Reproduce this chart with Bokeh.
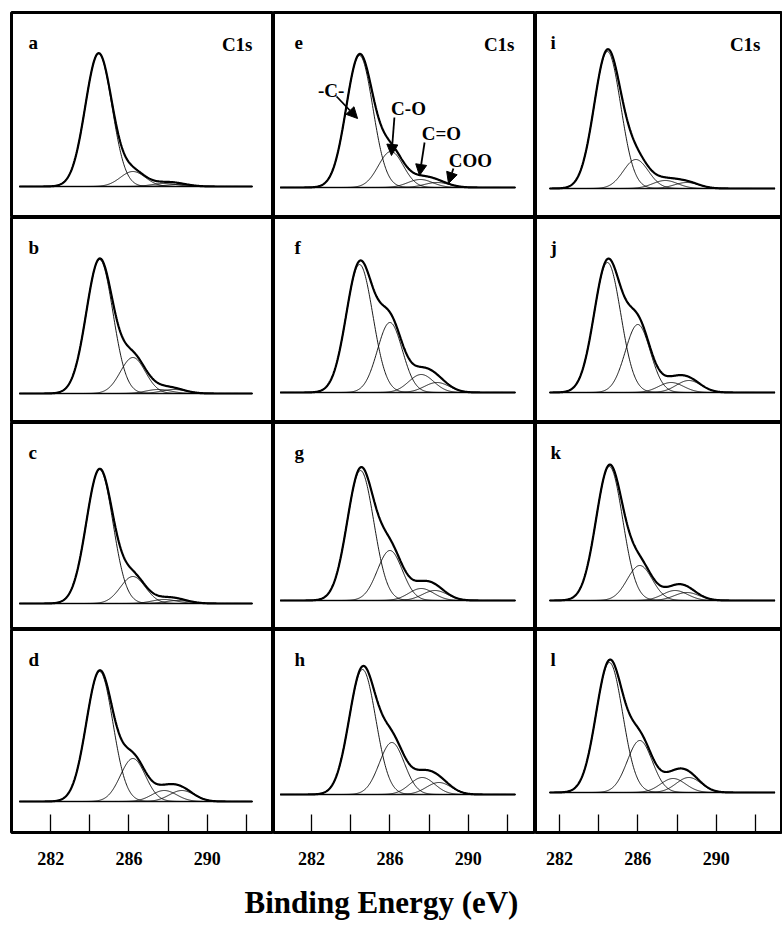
import numpy as np
from bokeh.plotting import figure
from bokeh.layouts import gridplot, column
from bokeh.models import FixedTicker, Arrow, NormalHead, Label
from bokeh.embed import file_html
from bokeh.resources import INLINE

# ---------------- data (row-major: a e i / b f j / c g k / d h l) ----------------
panel_letters = ["a", "e", "i", "b", "f", "j", "c", "g", "k", "d", "h", "l"]
show_c1s = [True, True, True, False, False, False, False, False, False, False, False, False]

# background level (arb. units)
background = [31, 30, 29, 29, 30, 30, 26, 29, 29, 31, 38, 40]

# component peaks: -C- , C-O , C=O , COO
cc_pos = [284.45, 284.45, 284.45, 284.5, 284.45, 284.45, 284.5, 284.5, 284.55, 284.5, 284.6, 284.55]
cc_height = [133, 132, 137, 134, 128, 130, 134, 130, 134, 130, 125, 130]
co_pos = [286.2, 286.05, 285.9, 286.2, 286.0, 286.0, 286.2, 286.0, 286.1, 286.2, 286.1, 286.1]
co_height = [15, 36, 29, 36, 70, 68, 27, 50, 35, 43, 52, 52]
cdo_pos = [287.8, 287.55, 287.4, 287.5, 287.6, 287.7, 287.8, 287.6, 287.9, 287.8, 287.65, 287.8]
cdo_height = [3, 8, 8, 4, 18, 10, 4, 12, 10, 11, 17, 14]
coo_pos = [288.5, 288.4, 288.5, 288.3, 288.4, 288.6, 288.5, 288.3, 288.5, 288.7, 288.5, 288.6]
coo_height = [2, 5, 6, 4, 10, 12, 3, 10, 8, 11, 12, 15]
fwhm_cc = [1.6] * 12
fwhm_other = [1.5] * 12

scan_start = [280.4, 280.4, 281.5] * 4
scan_end = [292.3, 292.4, 293.0] * 4

tick_values = [282, 286, 290]
minor_tick_values = [284, 288, 292]
x_title = "Binding Energy (eV)"

# ---------------- layout ----------------
col_frame_w = [262, 262, 246]
col_xrange = [(280.0, 293.38), (280.06, 293.43), (280.78, 293.33)]
row_frame_h = [205, 205, 207, 203]
letter_dx = [17, 21, 15]

SERIF = "Liberation Serif"


def gauss(x, c, h, w):
    s = w / 2.3548
    return h * np.exp(-0.5 * ((x - c) / s) ** 2)


rows = []
for r in range(4):
    row = []
    for c in range(3):
        i = r * 3 + c
        fh = row_frame_h[r]
        fw = col_frame_w[c]
        bottom = (r == 3)
        p = figure(frame_width=fw, frame_height=fh,
                   x_range=col_xrange[c], y_range=(0, fh),
                   output_backend="svg", toolbar_location=None,
                   x_axis_location="below" if bottom else None,
                   y_axis_location=None, min_border=0)
        p.min_border_left = 11 if c == 0 else 0
        p.min_border_right = 1 if c == 2 else 0
        p.min_border_top = 12 if r == 0 else 0
        p.min_border_bottom = 0
        p.outline_line_color = "black"
        p.outline_line_width = 3
        p.background_fill_color = "white"
        p.border_fill_color = "white"
        p.xgrid.grid_line_color = None
        p.ygrid.grid_line_color = None
        if bottom:
            ax = p.xaxis[0]
            ax.ticker = FixedTicker(ticks=tick_values, minor_ticks=minor_tick_values)
            ax.axis_line_color = None
            ax.major_tick_in = 18
            ax.major_tick_out = 0
            ax.minor_tick_in = 18
            ax.minor_tick_out = 0
            ax.major_tick_line_width = 1.3
            ax.minor_tick_line_width = 1.3
            ax.major_tick_line_color = "black"
            ax.minor_tick_line_color = "black"
            ax.major_label_text_font = SERIF
            ax.major_label_text_font_style = "bold"
            ax.major_label_text_font_size = "18px"
            ax.major_label_text_color = "black"
            ax.major_label_standoff = 19

        E = np.linspace(scan_start[i], scan_end[i], 500)
        bg = background[i]
        comps = [
            gauss(E, cc_pos[i], cc_height[i], fwhm_cc[i]),
            gauss(E, co_pos[i], co_height[i], fwhm_other[i]),
            gauss(E, cdo_pos[i], cdo_height[i], fwhm_other[i]),
            gauss(E, coo_pos[i], coo_height[i], fwhm_other[i]),
        ]
        env = sum(comps)
        # measured spectrum (thick)
        p.line(E, bg + env, line_color="black", line_width=2.2)
        # baseline
        p.line([scan_start[i], scan_end[i]], [bg, bg], line_color="#333333", line_width=1.4)
        # components
        for comp in comps:
            p.line(E, bg + comp, line_color="black", line_width=0.9)
        # fit envelope
        p.line(E, bg + env, line_color="black", line_width=0.9)

        p.add_layout(Label(x=letter_dx[c], y=fh - 30, x_units="screen", y_units="screen",
                           text=panel_letters[i], text_font=SERIF, text_font_style="bold",
                           text_font_size="19px", text_color="black",
                           text_baseline="alphabetic", text_align="left"))
        if show_c1s[i]:
            p.add_layout(Label(x=fw - 21, y=fh - 32, x_units="screen", y_units="screen",
                               text="C1s", text_font=SERIF, text_font_style="bold",
                               text_font_size="19px", text_color="black",
                               text_baseline="alphabetic", text_align="right"))
        if panel_letters[i] == "e":
            ann = [
                ("-C-", 283.0, 127, 283.28, 121, 284.35, 99),
                ("C-O", 286.95, 109, 286.23, 100, 286.08, 62),
                ("C=O", 288.63, 84, 287.77, 75, 287.51, 42),
                ("COO", 290.11, 57, 289.24, 49, 288.99, 34),
            ]
            for txt, tx, ty, x0, y0, x1, y1 in ann:
                p.add_layout(Label(x=tx, y=ty, text=txt, text_font=SERIF,
                                   text_font_style="bold", text_font_size="19px",
                                   text_color="black", text_align="center",
                                   text_baseline="middle"))
                p.add_layout(Arrow(end=NormalHead(size=11, fill_color="black",
                                                  line_color="black"),
                                   x_start=x0, y_start=y0, x_end=x1, y_end=y1,
                                   line_width=1.8, line_color="black"))
        row.append(p)
    rows.append(row)

grid = gridplot(rows, toolbar_location=None)

tf = figure(frame_width=782, frame_height=58, x_range=(0, 782), y_range=(0, 58),
            output_backend="svg", toolbar_location=None,
            x_axis_location=None, y_axis_location=None, min_border=0)
tf.outline_line_color = None
tf.xgrid.grid_line_color = None
tf.ygrid.grid_line_color = None
tf.add_layout(Label(x=381, y=23, text=x_title, text_font=SERIF, text_font_style="bold",
                    text_font_size="31px", text_color="black", text_align="center",
                    text_baseline="middle"))

layout = column(grid, tf)
open("out.html", "w").write(file_html(layout, INLINE))
